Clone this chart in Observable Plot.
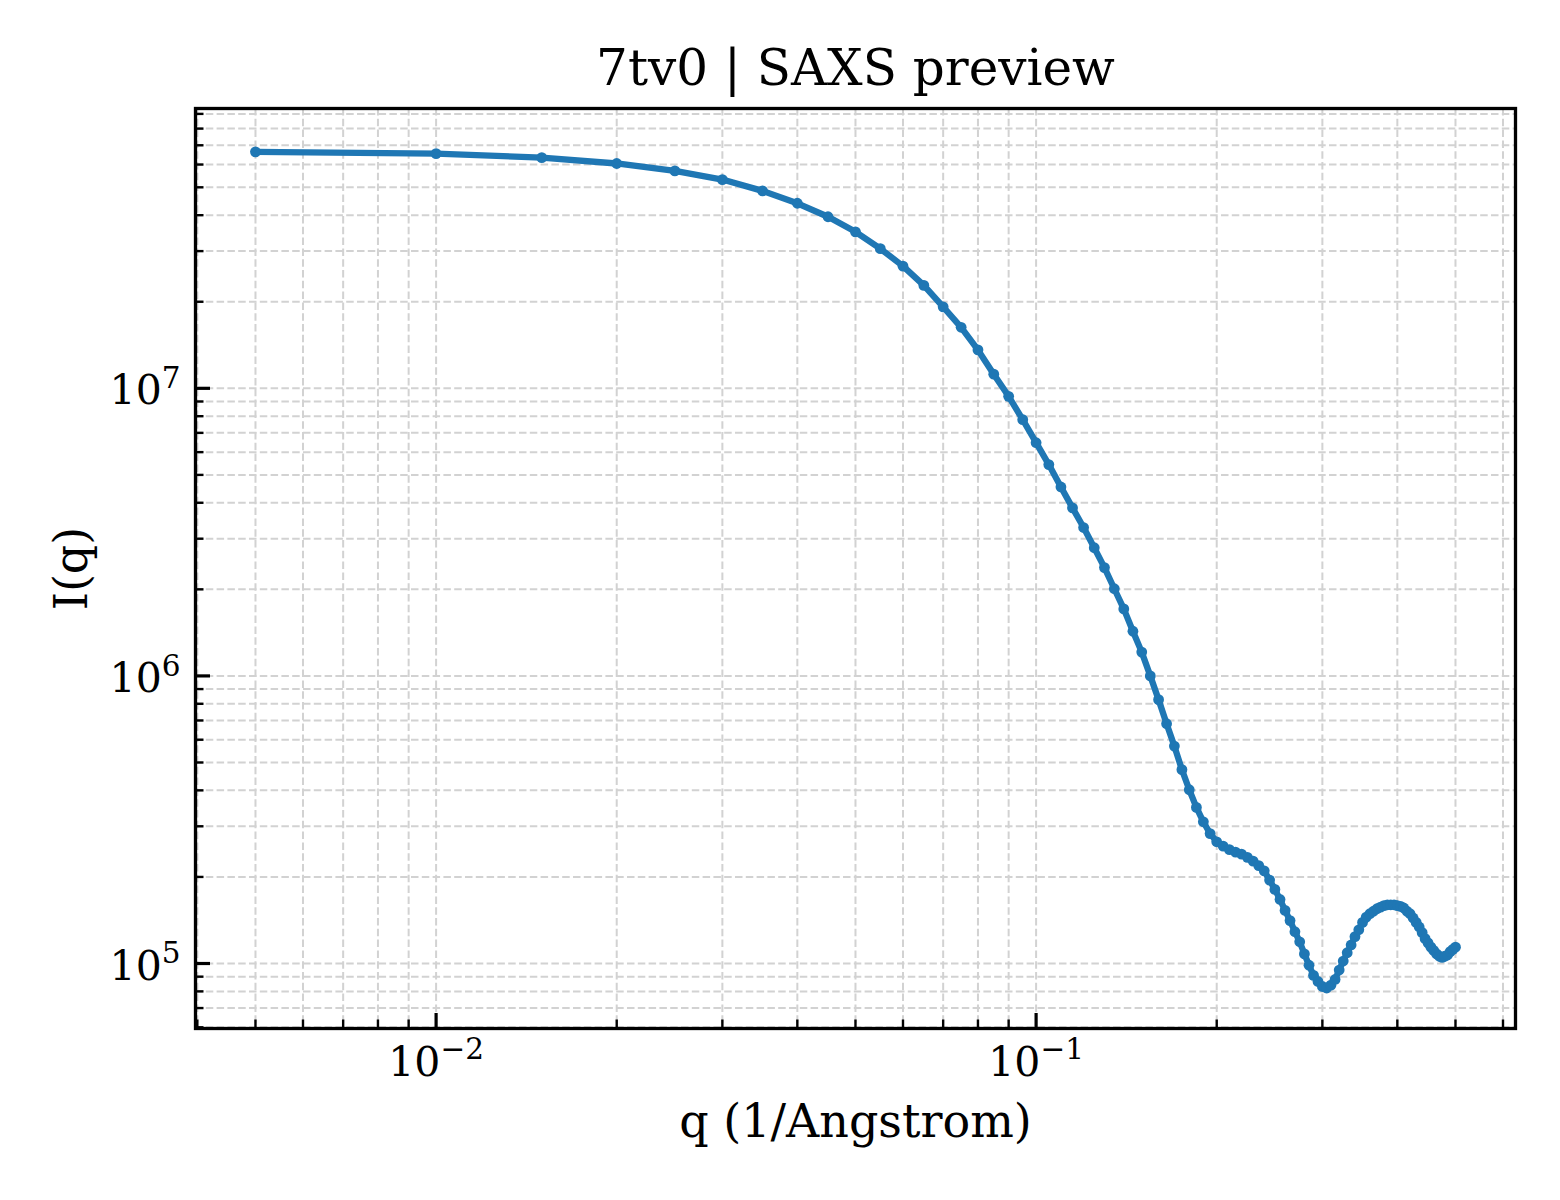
<!DOCTYPE html>
<html>
<head>
<meta charset="utf-8">
<script src="https://cdn.jsdelivr.net/npm/d3@7"></script>
<script src="https://cdn.jsdelivr.net/npm/@observablehq/plot@0.6"></script>
<style>
  html, body { margin: 0; padding: 0; background: #ffffff; }
  #chart svg { display: block; }
</style>
</head>
<body>
<div id="chart"></div>
<script>
// ---- data ----
const q = [
  0.005, 0.010, 0.015, 0.020, 0.025, 0.030, 0.035, 0.040, 0.045, 0.050,
  0.055, 0.060, 0.065, 0.070, 0.075, 0.080, 0.085, 0.090, 0.095, 0.100,
  0.105, 0.110, 0.115, 0.120, 0.125, 0.130, 0.135, 0.140, 0.145, 0.150,
  0.155, 0.160, 0.165, 0.170, 0.175, 0.180, 0.185, 0.190, 0.195, 0.200,
  0.205, 0.210, 0.215, 0.220, 0.225, 0.230, 0.235, 0.240, 0.245, 0.250,
  0.255, 0.260, 0.265, 0.270, 0.275, 0.280, 0.285, 0.290, 0.295, 0.300,
  0.305, 0.310, 0.315, 0.320, 0.325, 0.330, 0.335, 0.340, 0.345, 0.350,
  0.355, 0.360, 0.365, 0.370, 0.375, 0.380, 0.385, 0.390, 0.395, 0.400,
  0.405, 0.410, 0.415, 0.420, 0.425, 0.430, 0.435, 0.440, 0.445, 0.450,
  0.455, 0.460, 0.465, 0.470, 0.475, 0.480, 0.485, 0.490, 0.495, 0.500
];
const intensity = [
  6.64e7, 6.55e7, 6.34e7, 6.05e7, 5.70e7, 5.32e7, 4.86e7, 4.40e7, 3.95e7, 3.50e7,
  3.06e7, 2.66e7, 2.28e7, 1.92e7, 1.63e7, 1.36e7, 1.12e7, 9.38e6, 7.78e6, 6.47e6,
  5.43e6, 4.54e6, 3.84e6, 3.28e6, 2.79e6, 2.38e6, 2.01e6, 1.71e6, 1.43e6, 1.21e6,
  1.00e6, 8.27e5, 6.82e5, 5.70e5, 4.72e5, 4.02e5, 3.49e5, 3.11e5, 2.83e5, 2.65e5,
  2.56e5, 2.49e5, 2.44e5, 2.40e5, 2.34e5, 2.27e5, 2.19e5, 2.10e5, 1.95e5, 1.81e5,
  1.67e5, 1.53e5, 1.41e5, 1.29e5, 1.19e5, 1.08e5, 9.86e4, 9.09e4, 8.66e4, 8.32e4,
  8.22e4, 8.41e4, 8.80e4, 9.49e4, 1.02e5, 1.09e5, 1.16e5, 1.24e5, 1.31e5, 1.39e5,
  1.45e5, 1.49e5, 1.52e5, 1.55e5, 1.57e5, 1.59e5, 1.60e5, 1.60e5, 1.60e5, 1.59e5,
  1.58e5, 1.56e5, 1.52e5, 1.49e5, 1.44e5, 1.39e5, 1.34e5, 1.28e5, 1.22e5, 1.18e5,
  1.14e5, 1.11e5, 1.08e5, 1.06e5, 1.05e5, 1.06e5, 1.07e5, 1.10e5, 1.12e5, 1.14e5
];

// ---- ticks and labels ----
const xMajorTicks = [0.01, 0.1];
const xMajorLabels = ["10^\u22122", "10^\u22121"];
const xMinorTicks = [0.004, 0.005, 0.006, 0.007, 0.008, 0.009,
  0.02, 0.03, 0.04, 0.05, 0.06, 0.07, 0.08, 0.09,
  0.2, 0.3, 0.4, 0.5, 0.6];
const yMajorTicks = [1e5, 1e6, 1e7];
const yMajorLabels = ["10^5", "10^6", "10^7"];
const yMinorTicks = [6e4, 7e4, 8e4, 9e4,
  2e5, 3e5, 4e5, 5e5, 6e5, 7e5, 8e5, 9e5,
  2e6, 3e6, 4e6, 5e6, 6e6, 7e6, 8e6, 9e6,
  2e7, 3e7, 4e7, 5e7, 6e7, 7e7, 8e7, 9e7];

const titleText = "7tv0 | SAXS preview";
const xLabelText = "q (1/Angstrom)";
const yLabelText = "I(q)";

const xDomain = [0.003972, 0.6295];
const yDomain = [59430, 9.397e7];

const data = q.map((d, i) => ({q: d, I: intensity[i]}));
const xTickData = xMajorTicks.map((d, i) => ({v: d, label: xMajorLabels[i]}));
const yTickData = yMajorTicks.map((d, i) => ({v: d, label: yMajorLabels[i]}));

const W = 1560, H = 1200;
const mTop = 108, mBottom = 172, mLeft = 195, mRight = 45;
const plotW = W - mLeft - mRight, plotH = H - mTop - mBottom;

const gridStyle = {stroke: "#d2d2d2", strokeWidth: 2, strokeDasharray: "7.5,3.3"};
const blue = "#1f77b4";

const chart = Plot.plot({
  width: W,
  height: H,
  marginTop: mTop,
  marginBottom: mBottom,
  marginLeft: mLeft,
  marginRight: mRight,
  style: {fontFamily: "'DejaVu Serif', serif", background: "#ffffff", color: "#000000"},
  x: {type: "log", domain: xDomain, axis: null},
  y: {type: "log", domain: yDomain, axis: null},
  marks: [
    // grid (major + minor)
    Plot.ruleX(xMinorTicks, {x: d => d, ...gridStyle}),
    Plot.ruleX(xMajorTicks, {x: d => d, ...gridStyle}),
    Plot.ruleY(yMinorTicks, {y: d => d, ...gridStyle}),
    Plot.ruleY(yMajorTicks, {y: d => d, ...gridStyle}),
    // data
    Plot.line(data, {x: "q", y: "I", stroke: blue, strokeWidth: 6.3, strokeLinejoin: "round", strokeLinecap: "round"}),
    Plot.dot(data, {x: "q", y: "I", r: 5.4, fill: blue, stroke: "none"}),
    // inward ticks (bottom and left only)
    Plot.tickX(xMajorTicks, {x: d => d, insetTop: plotH - 15, stroke: "black", strokeWidth: 3.2}),
    Plot.tickX(xMinorTicks, {x: d => d, insetTop: plotH - 8.5, stroke: "black", strokeWidth: 2.4}),
    Plot.tickY(yMajorTicks, {y: d => d, insetRight: plotW - 15, stroke: "black", strokeWidth: 3.2}),
    Plot.tickY(yMinorTicks, {y: d => d, insetRight: plotW - 8.5, stroke: "black", strokeWidth: 2.4}),
    // spines
    Plot.frame({stroke: "black", strokeWidth: 3.3}),
    // tick labels
    Plot.text(xTickData, {x: "v", text: "label", frameAnchor: "bottom", lineAnchor: "middle", dy: 34, fontSize: 41, fill: "black", textAnchor: "middle"}),
    Plot.text(yTickData, {y: "v", text: "label", frameAnchor: "left", lineAnchor: "middle", dx: -15, dy: 3, fontSize: 41, fill: "black", textAnchor: "end"}),
    // axis labels and title
    Plot.text([xLabelText], {text: d => d, frameAnchor: "bottom", lineAnchor: "middle", textAnchor: "middle", dy: 94, fontSize: 46, fill: "black"}),
    Plot.text([yLabelText], {text: d => d, frameAnchor: "left", lineAnchor: "middle", textAnchor: "middle", dx: -123, rotate: -90, fontSize: 46, fill: "black"}),
    Plot.text([titleText], {text: d => d, frameAnchor: "top", lineAnchor: "middle", textAnchor: "middle", dy: -40, fontSize: 50, fill: "black"})
  ]
});

// turn "10^n" labels into base + superscript tspans (still real text)
chart.querySelectorAll("text").forEach(t => {
  const m = t.textContent.match(/^10\^(.+)$/);
  if (!m) return;
  while (t.firstChild) t.removeChild(t.firstChild);
  const ns = "http://www.w3.org/2000/svg";
  const base = document.createElementNS(ns, "tspan");
  base.textContent = "10";
  const sup = document.createElementNS(ns, "tspan");
  sup.textContent = m[1];
  sup.setAttribute("dy", "-0.55em");
  sup.setAttribute("font-size", "0.72em");
  t.appendChild(base);
  t.appendChild(sup);
});

document.getElementById("chart").appendChild(chart);
</script>
</body>
</html>
